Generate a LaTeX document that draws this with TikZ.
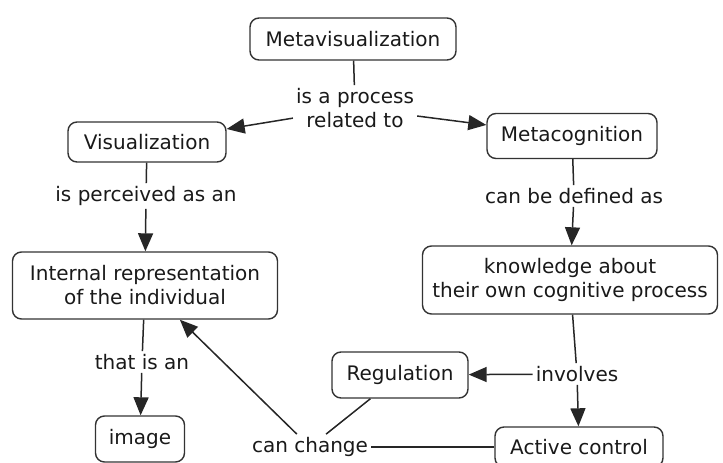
\documentclass[tikz,border=0pt]{standalone}
\usepackage{fontspec}
\setmainfont{DejaVu Sans}
\usetikzlibrary{arrows.meta}
\begin{document}
\begin{tikzpicture}[x=1pt,y=-1pt,
  concept/.style={draw=black!80,line width=1.4pt,rounded corners=9pt,align=center,inner sep=0pt,text=black!90,font=\fontsize{20}{24}\selectfont},
  link/.style={align=center,inner sep=3pt,text=black!90,font=\fontsize{20}{24}\selectfont},
  conn/.style={line width=1.5pt,draw=black!85},
  tip/.style={conn,-{Triangle[length=18pt,width=15pt]}}]
  \useasboundingbox (0,0) rectangle (723,463);
  \clip (0,0) rectangle (723,463);
  % concepts
  \node[concept,minimum width=206pt,minimum height=42pt] (metavis) at (353,39) {Metavisualization};
  \node[concept,minimum width=158pt,minimum height=40pt] (vis) at (147,142) {Visualization};
  \node[concept,minimum width=170pt,minimum height=45pt] (metacog) at (572,136) {Metacognition};
  \node[concept,minimum width=265pt,minimum height=67pt] (internal) at (145,285.5) {Internal representation\\of the individual};
  \node[concept,minimum width=295pt,minimum height=68pt] (knowledge) at (570,280) {knowledge about\\their own cognitive process};
  \node[concept,minimum width=136pt,minimum height=46pt] (regul) at (400,375) {Regulation};
  \node[concept,minimum width=89pt,minimum height=46pt] (image) at (140,439) {image};
  \node[concept,minimum width=168pt,minimum height=40pt] (active) at (579,447) {Active control};
  % linking phrases
  \node[link] (related) at (355,108) {is a process\\related to};
  \node[link] (perceived) at (146,196) {is perceived as an};
  \node[link] (defined) at (574,196) {can be defined as};
  \node[link] (thatis) at (142,362) {that is an};
  \node[link] (involves) at (577,374) {involves};
  \node[link] (canchange) at (310,447) {can change};
  % connectors
  \draw[conn] (metavis) -- (related);
  \draw[tip] (related) -- (vis);
  \draw[tip] (related) -- (metacog);
  \draw[conn] (vis) -- (perceived);
  \draw[tip] (perceived) -- (internal);
  \draw[conn] (metacog) -- (defined);
  \draw[tip] (defined) -- (knowledge);
  \draw[conn] (internal) -- (thatis);
  \draw[tip] (thatis) -- (image);
  \draw[conn] (knowledge) -- (involves);
  \draw[tip] (involves) -- (regul);
  \draw[tip] (involves) -- (active);
  \draw[conn] (regul) -- (canchange);
  \draw[conn] (canchange) -- (active);
  \draw[tip] (canchange) -- (internal);
\end{tikzpicture}
\end{document}
